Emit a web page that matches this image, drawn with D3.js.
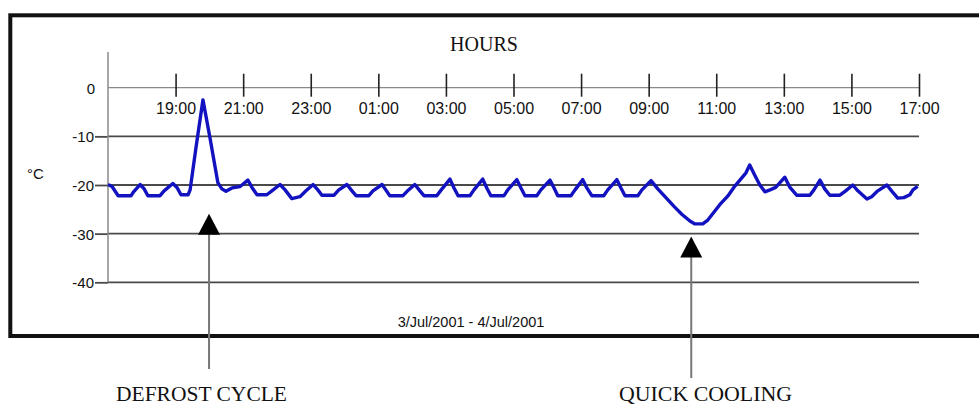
<!DOCTYPE html>
<html>
<head>
<meta charset="utf-8">
<script src="https://cdn.jsdelivr.net/npm/d3@7/dist/d3.min.js"></script>
<style>
  html, body { margin: 0; padding: 0; background: #fff; }
  svg { display: block; }
</style>
</head>
<body>
<svg id="chart" width="979" height="408"></svg>
<script>
// ---- data ----
// elapsed hours since 17:00 on 3/Jul/2001
const hours = [
  0.00, 0.12, 0.30, 0.68, 0.77, 0.95, 1.07, 1.18, 1.54, 1.66,
  1.92, 2.04, 2.16, 2.37, 2.43, 2.60, 2.81, 3.02, 3.25, 3.37,
  3.49, 3.67, 3.91, 4.14, 4.26, 4.41, 4.70, 4.85, 5.09, 5.24,
  5.44, 5.68, 5.86, 6.07, 6.21, 6.33, 6.69, 6.83, 7.07, 7.22,
  7.34, 7.72, 7.84, 8.11, 8.22, 8.34, 8.73, 8.85, 9.08, 9.23,
  9.35, 9.73, 9.85, 10.12, 10.24, 10.36, 10.71, 10.83, 11.09, 11.21,
  11.33, 11.72, 11.83, 12.10, 12.22, 12.34, 12.69, 12.81, 13.08, 13.20,
  13.31, 13.70, 13.82, 14.05, 14.17, 14.32, 14.67, 14.79, 15.06, 15.18,
  15.30, 15.68, 15.80, 16.07, 16.27, 16.51, 16.75, 16.98, 17.22, 17.37,
  17.60, 17.75, 17.93, 18.11, 18.34, 18.52, 18.70, 18.88, 18.99, 19.14,
  19.29, 19.44, 19.59, 19.76, 20.03, 20.18, 20.38, 20.77, 20.89, 21.07,
  21.21, 21.36, 21.66, 21.83, 22.04, 22.19, 22.46, 22.60, 22.78, 23.05,
  23.20, 23.37, 23.55, 23.73, 23.82, 23.96
];
const temps = [
  -19.9, -20.3, -22.2, -22.2, -21.3, -19.9, -20.8, -22.2, -22.2, -21.2,
  -19.7, -20.5, -22.0, -22.0, -21.0, -12.5, -2.5, -10.4, -19.5, -20.8,
  -21.3, -20.6, -20.3, -19.0, -20.5, -22.0, -22.0, -21.2, -19.9, -21.0,
  -22.8, -22.4, -21.2, -19.9, -21.0, -22.1, -22.1, -21.0, -19.9, -21.2,
  -22.2, -22.2, -21.2, -19.9, -21.0, -22.2, -22.2, -21.3, -19.9, -21.2,
  -22.2, -22.2, -21.1, -18.8, -20.6, -22.2, -22.2, -21.0, -18.8, -20.6,
  -22.2, -22.2, -21.0, -18.9, -20.6, -22.2, -22.2, -21.0, -19.0, -20.6,
  -22.2, -22.2, -21.0, -18.9, -20.6, -22.2, -22.2, -21.0, -18.9, -20.6,
  -22.2, -22.2, -21.0, -19.1, -20.8, -22.6, -24.4, -26.0, -27.4, -28.0,
  -28.0, -27.2, -25.6, -24.0, -22.3, -20.5, -19.0, -17.5, -15.9, -18.0,
  -20.0, -21.4, -21.0, -20.5, -18.4, -20.5, -22.1, -22.1, -21.0, -19.0,
  -20.8, -22.1, -22.1, -21.2, -20.0, -21.2, -22.9, -22.4, -21.2, -20.0,
  -21.3, -22.7, -22.6, -22.0, -21.0, -20.3
];
const xTickHours = [2, 4, 6, 8, 10, 12, 14, 16, 18, 20, 22, 24];
const xTickLabels = ["19:00", "21:00", "23:00", "01:00", "03:00", "05:00",
                     "07:00", "09:00", "11:00", "13:00", "15:00", "17:00"];
const yTickValues = [0, -10, -20, -30, -40];
const yTickLabels = ["0", "-10", "-20", "-30", "-40"];
const annotations = [
  { label: "DEFROST CYCLE", hour: 2.99, value: -25.9 },
  { label: "QUICK COOLING", hour: 17.26, value: -30.6 }
];
const titleText = "HOURS";
const unitText = "°C";
const dateText = "3/Jul/2001 - 4/Jul/2001";

// ---- layout ----
const svg = d3.select("#chart");
const x = d3.scaleLinear().domain([0, 24]).range([108, 919]);
const y = d3.scaleLinear().domain([-40, 0]).range([282.3, 87.7]);
const sans = "'Liberation Sans', Arial, sans-serif";
const serif = "'Liberation Serif', 'Times New Roman', serif";

// outer frame
svg.append("rect")
  .attr("x", 10.3).attr("y", 15.3)
  .attr("width", 990).attr("height", 320.7)
  .attr("fill", "none").attr("stroke", "#111").attr("stroke-width", 4);

// horizontal gridlines
svg.append("g").selectAll("line")
  .data(yTickValues)
  .join("line")
  .attr("x1", x(0)).attr("x2", x(24))
  .attr("y1", d => y(d)).attr("y2", d => y(d))
  .attr("stroke", d => d === 0 ? "#8a8a8a" : "#4a4a4a")
  .attr("stroke-width", d => d === 0 ? 1.3 : 1.8);

// y axis
const yAxis = svg.append("g")
  .attr("transform", `translate(${x(0)},0)`)
  .call(d3.axisLeft(y).tickValues(yTickValues)
        .tickFormat((d, i) => yTickLabels[i]).tickSize(13).tickPadding(1));
yAxis.select(".domain").remove();
yAxis.selectAll(".tick line").attr("stroke", "#4a4a4a").attr("stroke-width", 1.8)
  .filter(d => d === 0).remove();
yAxis.selectAll(".tick text")
  .attr("font-family", sans).attr("font-size", 15).attr("fill", "#111")
  .attr("dy", "0.36em")
  .filter(d => d === 0).attr("x", -13);
svg.append("line")
  .attr("x1", x(0)).attr("x2", x(0)).attr("y1", 52).attr("y2", y(-40))
  .attr("stroke", "#8a8a8a").attr("stroke-width", 1.5);

// x axis (hours), ticks crossing the 0 line
const xAxis = svg.append("g")
  .attr("transform", `translate(0,${y(0)})`)
  .call(d3.axisBottom(x).tickValues(xTickHours)
        .tickFormat((d, i) => xTickLabels[i]).tickSize(9).tickPadding(0));
xAxis.select(".domain").remove();
xAxis.selectAll(".tick line").attr("y1", -14).attr("stroke", "#222").attr("stroke-width", 1.6);
xAxis.selectAll(".tick text")
  .attr("font-family", sans).attr("font-size", 16).attr("fill", "#111")
  .attr("y", 26).attr("dy", 0);

// titles
svg.append("text").text(titleText)
  .attr("x", 484).attr("y", 51).attr("text-anchor", "middle")
  .attr("font-family", serif).attr("font-size", 20).attr("fill", "#111");
svg.append("text").text(unitText)
  .attr("x", 27).attr("y", 179)
  .attr("font-family", sans).attr("font-size", 15).attr("fill", "#111");
svg.append("text").text(dateText)
  .attr("x", 471).attr("y", 327).attr("text-anchor", "middle")
  .attr("font-family", sans).attr("font-size", 14.5).attr("fill", "#111");

// data line
const line = d3.line().x((d, i) => x(hours[i])).y(d => y(d));
svg.append("path")
  .attr("d", line(temps))
  .attr("fill", "none").attr("stroke", "#1212c0")
  .attr("stroke-width", 3.4).attr("stroke-linejoin", "round");

// annotations: arrows + labels
const ann = svg.append("g").selectAll("g").data(annotations).join("g");
ann.append("line")
  .attr("x1", d => x(d.hour)).attr("x2", d => x(d.hour))
  .attr("y1", d => y(d.value) + 8)
  .attr("y2", (d, i) => i === 0 ? 369 : 378)
  .attr("stroke", "#777").attr("stroke-width", 2);
ann.append("path")
  .attr("d", d => {
    const cx = x(d.hour), ty = y(d.value);
    return `M${cx},${ty} L${cx - 11},${ty + 21} L${cx + 11},${ty + 21} Z`;
  })
  .attr("fill", "#000");
ann.append("text").text(d => d.label)
  .attr("x", (d, i) => i === 0 ? 201.5 : 705.5)
  .attr("y", 401)
  .attr("text-anchor", "middle")
  .attr("font-family", serif).attr("font-size", 20).attr("fill", "#111")
  .attr("textLength", (d, i) => i === 0 ? 171 : 173)
  .attr("lengthAdjust", "spacingAndGlyphs");
</script>
</body>
</html>
